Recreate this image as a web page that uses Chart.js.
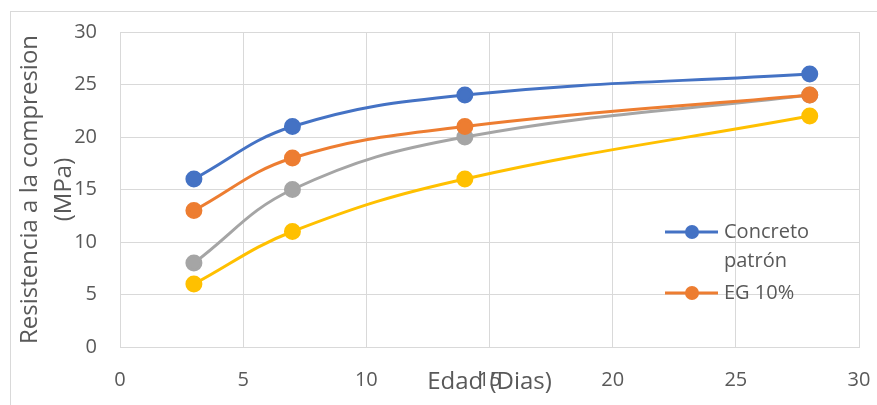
<!DOCTYPE html>
<html>
<head>
<meta charset="utf-8">
<script src="https://cdn.jsdelivr.net/npm/chart.js@4/dist/chart.umd.min.js"></script>
<style>
  html, body { margin: 0; padding: 0; background: #fff; }
</style>
</head>
<body>
<canvas id="chart" width="877" height="405"></canvas>
<script>
// edad en dias
var edades = [3, 7, 14, 28];
var concretoPatron = [16, 21, 24, 26];
var eg10 = [13, 18, 21, 24];
var eg20 = [8, 15, 20, 24];
var eg30 = [6, 11, 16, 22];
var nombres = ['Concreto patrón', 'EG 10%', 'EG 20%', 'EG 30%'];
var colores = ['#4472C4', '#ED7D31', '#A5A5A5', '#FFC000'];
var ticksX = [0, 5, 10, 15, 20, 25, 30];
var ticksY = [0, 5, 10, 15, 20, 25, 30];

var FONT = '"Open Sans", "Noto Sans", sans-serif';
var GRIS = '#595959';

function puntos(ys) {
  return edades.map(function(x, i) { return {x: x, y: ys[i]}; });
}

function serie(i, ys) {
  return {
    label: nombres[i],
    data: puntos(ys),
    showLine: true,
    borderColor: colores[i],
    backgroundColor: colores[i],
    borderWidth: 3,
    pointRadius: 7,
    pointHoverRadius: 7,
    tension: 0.4
  };
}

// marco del grafico
var marco = {
  id: 'marco',
  beforeDraw: function(chart) {
    var ctx = chart.ctx;
    ctx.save();
    ctx.fillStyle = '#fff';
    ctx.fillRect(0, 0, chart.width, chart.height);
    ctx.strokeStyle = '#d9d9d9';
    ctx.lineWidth = 1;
    ctx.strokeRect(10.5, 11.5, 900, 500);
    ctx.restore();
  }
};

// leyenda dentro del area (solo se ven dos entradas)
var leyenda = {
  id: 'leyenda',
  afterDraw: function(chart) {
    var ctx = chart.ctx;
    var filas = [232, 293];
    ctx.save();
    ctx.font = '20px ' + FONT;
    ctx.textBaseline = 'middle';
    for (var i = 0; i < filas.length; i++) {
      var ds = chart.data.datasets[i];
      var y = filas[i];
      ctx.strokeStyle = ds.borderColor;
      ctx.lineWidth = 3;
      ctx.beginPath();
      ctx.moveTo(665, y);
      ctx.lineTo(718, y);
      ctx.stroke();
      ctx.fillStyle = ds.borderColor;
      ctx.beginPath();
      ctx.arc(692, y, 7, 0, Math.PI * 2);
      ctx.fill();
      // partir el texto en lineas
      var palabras = ds.label.split(' ');
      var lineas = [];
      var actual = '';
      palabras.forEach(function(p) {
        var prueba = actual ? actual + ' ' + p : p;
        if (ctx.measureText(prueba).width > 100 && actual) {
          lineas.push(actual);
          actual = p;
        } else {
          actual = prueba;
        }
      });
      lineas.push(actual);
      ctx.fillStyle = GRIS;
      lineas.forEach(function(l, k) {
        ctx.fillText(l, 724, y + k * 29);
      });
    }
    ctx.restore();
  }
};

new Chart(document.getElementById('chart'), {
  type: 'scatter',
  data: {
    datasets: [
      serie(0, concretoPatron),
      serie(1, eg10),
      serie(2, eg20),
      serie(3, eg30)
    ]
  },
  options: {
    responsive: false,
    animation: false,
    layout: { padding: { top: 32, right: 18, left: 0, bottom: 0 } },
    plugins: {
      legend: { display: false },
      tooltip: { enabled: false }
    },
    scales: {
      x: {
        type: 'linear',
        min: 0,
        max: 30,
        afterBuildTicks: function(scale) {
          scale.ticks = ticksX.map(function(v) { return {value: v}; });
        },
        afterFit: function(scale) {
          scale.height = 58;
          scale.paddingLeft = 0;
          scale.paddingRight = 0;
        },
        grid: { color: '#d9d9d9', drawTicks: false },
        border: { color: '#d9d9d9' },
        ticks: { padding: 21, color: GRIS, font: { family: FONT, size: 20 } },
        title: {
          display: true,
          text: 'Edad (Dias)',
          color: GRIS,
          font: { family: FONT, size: 24, lineHeight: 1.2 },
          padding: { top: 0, bottom: 8 }
        }
      },
      y: {
        min: 0,
        max: 30,
        afterBuildTicks: function(scale) {
          scale.ticks = ticksY.map(function(v) { return {value: v}; });
        },
        afterFit: function(scale) {
          scale.width = 120;
          scale.paddingTop = 0;
          scale.paddingBottom = 0;
        },
        grid: { color: '#d9d9d9', drawTicks: false },
        border: { color: '#d9d9d9' },
        ticks: { padding: 23, color: GRIS, font: { family: FONT, size: 20 } },
        title: {
          display: true,
          text: ['Resistencia a la compresion', '(MPa)'],
          color: GRIS,
          font: { family: FONT, size: 24, lineHeight: 1.42 },
          padding: { top: 13 }
        }
      }
    }
  },
  plugins: [marco, leyenda]
});
</script>
</body>
</html>
